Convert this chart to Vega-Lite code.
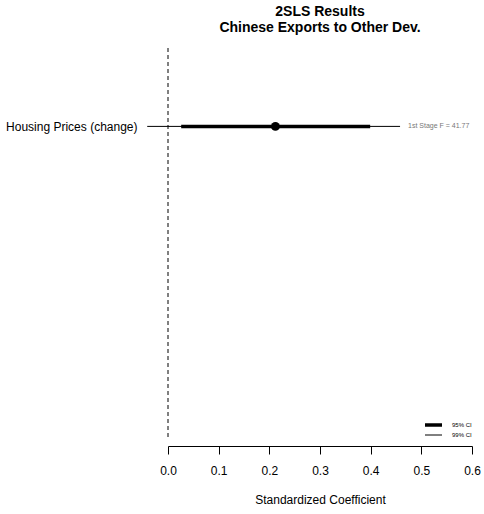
{
  "$schema": "https://vega.github.io/schema/vega-lite/v6.json",
  "width": 304,
  "height": 392,
  "autosize": {"type": "none"},
  "padding": {"left": 168, "top": 48, "right": 12, "bottom": 74},
  "config": {"font": "Liberation Sans", "view": {"stroke": null}, "axis": {"grid": false}},
  "title": {
    "text": ["2SLS Results", "Chinese Exports to Other Dev."],
    "fontSize": 14,
    "fontWeight": "bold",
    "anchor": "middle",
    "frame": "group",
    "color": "black",
    "lineHeight": 16,
    "offset": 13
  },
  "data": {
    "values": [
      {"var": "Housing Prices (change)", "est": 0.212, "lo95": 0.026, "hi95": 0.399, "lo99": -0.041, "hi99": 0.458, "fstat": "1st Stage F = 41.77"}
    ]
  },
  "layer": [
    {
      "mark": {"type": "rule", "strokeDash": [4, 3], "color": "black", "strokeWidth": 1},
      "encoding": {
        "x": {
          "datum": 0,
          "type": "quantitative",
          "scale": {"domain": [0, 0.6], "nice": false, "zero": false},
          "axis": {
            "values": [0, 0.1, 0.2, 0.3, 0.4, 0.5, 0.6],
            "format": ".1f",
            "title": "Standardized Coefficient",
            "titleFontSize": 12,
            "titleFontWeight": "normal",
            "titleColor": "black",
            "labelFontSize": 12,
            "labelColor": "black",
            "labelFlush": false,
            "tickSize": 8,
            "tickColor": "black",
            "domainColor": "black",
            "offset": 6,
            "labelPadding": 11,
            "titlePadding": 18
          }
        }
      }
    },
    {
      "mark": {"type": "rule", "color": "black"},
      "encoding": {
        "x": {"field": "lo99", "type": "quantitative"},
        "x2": {"field": "hi99"},
        "y": {
          "field": "var",
          "type": "nominal",
          "scale": {"type": "point", "align": 0.2},
          "axis": {"title": null, "domain": false, "ticks": false, "labelFontSize": 12, "labelColor": "black", "labelPadding": 31}
        },
        "strokeWidth": {
          "datum": "99% CI",
          "type": "ordinal",
          "scale": {"domain": ["95% CI", "99% CI"], "range": [3.5, 1]},
          "legend": {
            "orient": "bottom-right",
            "title": null,
            "symbolType": "stroke",
            "symbolSize": 289,
            "symbolStrokeColor": "black",
            "labelFontSize": 6,
            "labelColor": "black",
            "clipHeight": 10,
            "padding": 0,
            "offset": 0,
            "labelOffset": 8,
            "rowPadding": 0
          }
        }
      }
    },
    {
      "mark": {"type": "rule", "color": "black"},
      "encoding": {
        "x": {"field": "lo95", "type": "quantitative"},
        "x2": {"field": "hi95"},
        "y": {"field": "var", "type": "nominal"},
        "strokeWidth": {"datum": "95% CI", "type": "ordinal"}
      }
    },
    {
      "mark": {"type": "point", "filled": true, "color": "black", "opacity": 1, "size": 80},
      "encoding": {
        "x": {"field": "est", "type": "quantitative"},
        "y": {"field": "var", "type": "nominal"}
      }
    },
    {
      "mark": {"type": "text", "align": "left", "dx": 8, "fontSize": 7, "color": "#777777"},
      "encoding": {
        "x": {"field": "hi99", "type": "quantitative"},
        "y": {"field": "var", "type": "nominal"},
        "text": {"field": "fstat"}
      }
    }
  ]
}
